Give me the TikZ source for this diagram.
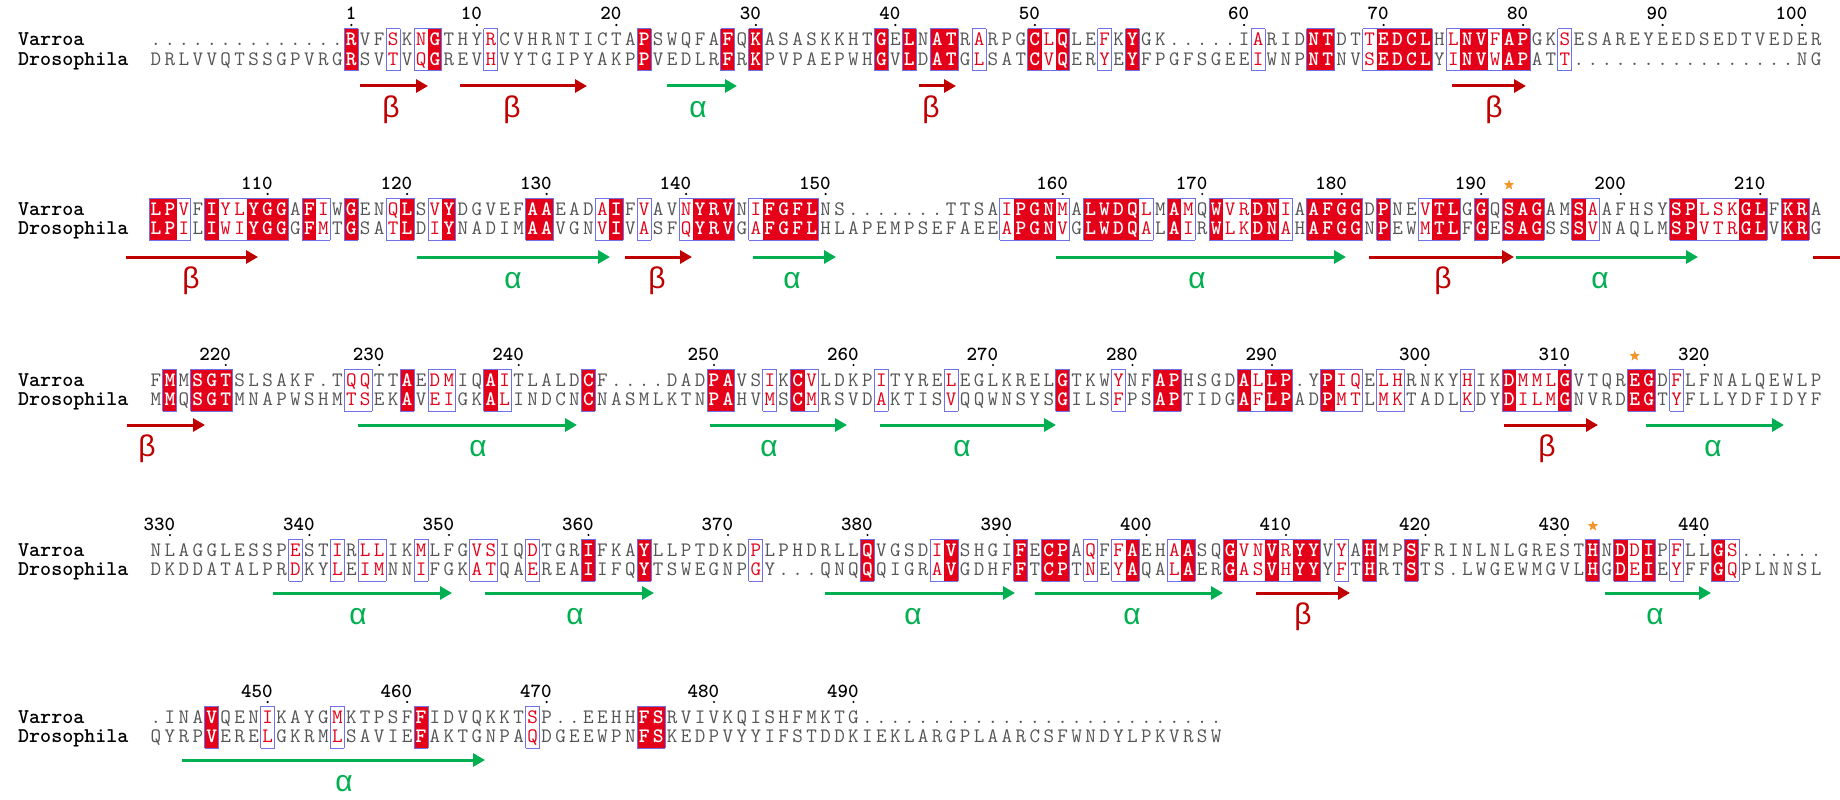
\documentclass[tikz,border=0pt]{standalone}
\usepackage{fontspec}
\setsansfont{Liberation Sans}
\usetikzlibrary{arrows.meta,shapes.geometric}

\definecolor{idred}{RGB}{228,0,24}
\definecolor{simframe}{RGB}{112,112,232}
\definecolor{resgray}{RGB}{85,85,85}
\definecolor{betared}{RGB}{192,0,0}
\definecolor{alphagreen}{RGB}{0,176,80}
\definecolor{staror}{RGB}{242,150,40}

\ExplSyntaxOn
\cs_new:Npn \rescol #1#2 { \str_item:Nn #1 {#2} }
\cs_new_protected:Npn \getclass #1#2#3#4
  {
    \tl_set:Nx \l_tmpa_tl { \int_eval:n {#3} }
    \clist_if_in:NVTF #1 \l_tmpa_tl
      { \tl_set:Nn #4 { r } }
      {
        \clist_if_in:NVTF #2 \l_tmpa_tl
          { \tl_set:Nn #4 { s } }
          { \tl_set:Nn #4 { n } }
      }
  }
\ExplSyntaxOff

\def\xo{156}
\def\cw{13.95}
\def\rowgap{19.5}

% block 1
\def\VaA{..............RVFSKNGTHYRCVHRNTICTAPSWQFAFQKASASKKHTGELNATRARPGCLQLEFKYGK.....IARIDNTDTTEDCLHLNVFAPGKSESAREYEEDSEDTVEDER}
\def\DrA{DRLVVQTSSGPVRGRSVTVQGREVHVYTGIPYAKPPVEDLRFRKPVPAEPWHGVLDATGLSATCVQERYEYFPGFSGEEIWNPNTNVSEDCLYINVWAPATT................NG}
\def\RedA{15,21,36,42,44,53,55,57,58,64,66,71,84,85,89,90,91,92,95,96,98,99}
\def\SimA{18,20,25,60,65,69,80,88,94,97,102}
% block 2
\def\VaB{LPVFIYLYGGAFIWGENQLSVYDGVEFAAEADAIFVAVNYRVNIFGFLNS.......TTSAIPGNMALWDQLMAMQWVRDNIAAFGGDPNEVTLGGQSAGAMSAAFHSYSPLSKGLFKRA}
\def\DrB{LPILIWIYGGGFMTGSATLDIYNADIMAAVGNVIVASFQYRVGAFGFLHLAPEMPSEFAEEAPGNVGLWDQALAIRWLKDNAHAFGGNPEWMTLFGESAGSSSVNAQLMSPVTRGLVKRG}
\def\RedB{1,2,5,8,9,10,12,15,19,22,28,29,34,40,41,42,45,46,47,48,63,64,65,68,69,70,71,74,77,80,81,84,85,86,87,89,93,94,96,98,99,100,103,110,111,115,116,118,119}
\def\SimB{3,6,7,13,18,21,33,36,39,44,62,66,72,75,78,79,82,92,104,112,113,114}
% block 3
\def\VaC{FMMSGTSLSAKF.TQQTTAEDMIQAITLALDCF....DADPAVSIKCVLDKPITYRELEGLKRELGTKWYNFAPHSGDALLP.YPIQELHRNKYHIKDMMLGVTQREGDFLFNALQEWLP}
\def\DrC{MMQSGTMNAPWSHMTSEKAVEIGKALINDCNCNASMLKTNPAHVMSCMRSVDAKTISVQQWNSYSGILSFPSAPTIDGAFLPADPMTLMKTADLKDYDILMGNVRDEGTYFLLYDFIDYF}
\def\RedC{2,4,5,6,19,25,32,41,42,47,66,73,74,79,81,82,85,98,102,107,108}
\def\SimC{15,16,21,22,26,45,48,53,58,70,80,86,87,89,90,95,99,100,101,110}
% block 4
\def\VaD{NLAGGLESSPESTIRLLIKMLFGVSIQDTGRIFKAYLLPTDKDPLPHDRLLQVGSDIVSHGIFECPAQFFAEHAASQGVNVRYYVYAHMPSFRINLNLGRESTHNDDIPFLLGS......}
\def\DrD{DKDDATALPRDKYLEIMNNIFGKATQAEREAIIFQYTSWEGNPGY...QNQQQIGRAVGDHFFTCPTNEYAQALAERGASVHYYYFTHRTSTS.LWGEWMGVLHGDEIEYFFGQPLNNSL}
\def\RedD{32,36,52,58,63,65,66,71,75,78,81,83,84,88,91,104,106,108,113}
\def\SimD{11,14,16,17,20,24,25,28,44,57,68,70,74,79,80,82,86,107,110,114}
% block 5
\def\VaE{.INAVQENIKAYGMKTPSFFIDVQKKTSP..EEHHFSRVIVKQISHFMKTG..........................}
\def\DrE{QYRPVERELGKRMLSAVIEFAKTGNPAQDGEEWPNFSKEDPVYYIFSTDDKIEKLARGPLAARCSFWNDYLPKVRSW}
\def\RedE{5,20,36,37}
\def\SimE{9,14,28}

% one alignment block: id, baseline, Varroa, Drosophila, identical, similar, columns, ruler
\newcommand\alnblock[8]{%
  \node[seqname] (#1va) at (18,#2) {Varroa};
  \node[seqname] (#1dr) at (18,#2+\rowgap) {Drosophila};
  \foreach \c/\num in {#8} {
    \node[rulernum] (#1n\num) at ({\xo+(\c-1)*\cw+5.3},#2-26) {\num};
    \fill[black] ({\xo+(\c-1)*\cw},#2-21) circle (1.2);
  }
  \foreach \k in {1,...,#7} {
    \pgfmathsetmacro\cx{\xo+(\k-1)*\cw}
    \getclass#5#6{\k}\cls
    \getclass#5#6{\k-1}\clsL
    \getclass#5#6{\k+1}\clsR
    \if r\cls
      \fill[idred] (\cx-\cw/2,#2-17) rectangle (\cx+\cw/2,#2+\rowgap+5.5);
      \node[idres] (#1v\k) at (\cx,#2) {\rescol#3{\k}};
      \node[idres] (#1d\k) at (\cx,#2+\rowgap) {\rescol#4{\k}};
    \else\if s\cls
      \node[simres] (#1v\k) at (\cx,#2) {\rescol#3{\k}};
      \node[simres] (#1d\k) at (\cx,#2+\rowgap) {\rescol#4{\k}};
    \else
      \node[res] (#1v\k) at (\cx,#2) {\rescol#3{\k}};
      \node[res] (#1d\k) at (\cx,#2+\rowgap) {\rescol#4{\k}};
    \fi\fi
    \if n\cls\else
      \draw[simbox] (\cx-\cw/2,#2-17) -- (\cx+\cw/2,#2-17);
      \draw[simbox] (\cx-\cw/2,#2+\rowgap+5.5) -- (\cx+\cw/2,#2+\rowgap+5.5);
      \if n\clsL \draw[simbox] (\cx-\cw/2,#2-17) -- (\cx-\cw/2,#2+\rowgap+5.5); \fi
      \if n\clsR \draw[simbox] (\cx+\cw/2,#2-17) -- (\cx+\cw/2,#2+\rowgap+5.5); \fi
    \fi
  }
}

\begin{document}
\begin{tikzpicture}[x=1pt, y=-1pt,
  res/.style={font=\ttfamily\fontsize{20.5}{20.5}\selectfont, inner sep=0pt, anchor=base, text=resgray},
  idres/.style={res, text=white, font=\ttfamily\bfseries\fontsize{20.5}{20.5}\selectfont},
  simres/.style={res, text=idred},
  simbox/.style={draw=simframe, line width=1pt},
  seqname/.style={font=\ttfamily\bfseries\fontsize{21}{21}\selectfont, inner sep=0pt, anchor=base west},
  rulernum/.style={font=\ttfamily\bfseries\fontsize{20}{20}\selectfont, inner sep=0pt, anchor=base east},
  catstar/.style={star, star points=5, star point ratio=2.4, fill=staror, inner sep=0pt, minimum size=11pt},
  betaarr/.style={draw=betared, line width=3pt, -{Triangle[length=12pt,width=13pt]}},
  alphaarr/.style={draw=alphagreen, line width=3pt, -{Triangle[length=12pt,width=13pt]}},
  betalab/.style={font=\sffamily\fontsize{30}{30}\selectfont, text=betared, inner sep=0pt},
  alphalab/.style={font=\sffamily\fontsize{30}{30}\selectfont, text=alphagreen, inner sep=0pt}]
\fill[white] (0,0) rectangle (1840,800);
\useasboundingbox (0,0) rectangle (1840,800);

\alnblock{a}{46}{\VaA}{\DrA}{\RedA}{\SimA}{120}{15/1,24/10,34/20,44/30,54/40,64/50,79/60,89/70,99/80,109/90,119/100}
\alnblock{b}{215}{\VaB}{\DrB}{\RedB}{\SimB}{120}{9/110,19/120,29/130,39/140,49/150,66/160,76/170,86/180,96/190,106/200,116/210}
\alnblock{c}{386}{\VaC}{\DrC}{\RedC}{\SimC}{120}{6/220,17/230,27/240,41/250,51/260,61/270,71/280,81/290,92/300,102/310,112/320}
\alnblock{d}{556}{\VaD}{\DrD}{\RedD}{\SimD}{120}{2/330,12/340,22/350,32/360,42/370,52/380,62/390,72/400,82/410,92/420,102/430,112/440}
\alnblock{e}{723}{\VaE}{\DrE}{\RedE}{\SimE}{77}{9/450,19/460,29/470,41/480,51/490}

% catalytic residues
\node[catstar] (starb) at (1509,185) {};
\node[catstar] (starc) at (1634.7,356) {};
\node[catstar] (stard) at (1592.9,526) {};

% strands
\foreach \xa/\xb/\y/\lx [count=\i] in {360/428/86/391,460/587/86/512,919/956/86/931,1452/1526/86/1494,
    126/258/257/191,625/692/257/657,1369/1514/257/1443,
    127/205/425/147,1504/1598/425/1547,1256/1350/593/1303} {
  \coordinate (bs\i) at (\xa,\y);
  \coordinate (be\i) at (\xb,\y);
  \draw[betaarr] (bs\i) -- (be\i);
  \node[betalab] (bl\i) at (\lx,\y+24) {β};
}
\coordinate (bx1) at (1813,257);
\coordinate (bx2) at (1840,257);
\draw[draw=betared, line width=3pt] (bx1) -- (bx2);

% helices
\foreach \xa/\xb/\y/\lx [count=\i] in {667/737/86/698,
    417/610/257/513,753/836/257/792,1056/1346/257/1197,1516/1698/257/1600,
    358/577/425/478,710/847/425/769,880/1056/425/962,1646/1784/425/1713,
    273/452/593/358,485/654/593/575,825/1015/593/913,1035/1223/593/1132,1605/1711/593/1655,
    182/485/760/344} {
  \coordinate (as\i) at (\xa,\y);
  \coordinate (ae\i) at (\xb,\y);
  \draw[alphaarr] (as\i) -- (ae\i);
  \node[alphalab] (al\i) at (\lx,\y+24) {α};
}
\end{tikzpicture}
\end{document}
